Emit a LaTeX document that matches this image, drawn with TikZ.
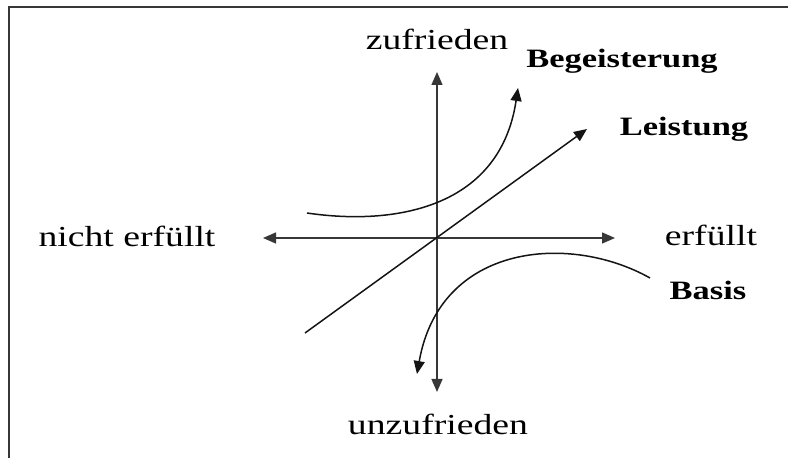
\documentclass[tikz,border=0pt]{standalone}
\usepackage{fontspec}
\setmainfont[FakeStretch=1.3]{Liberation Serif}
\usetikzlibrary{arrows.meta}
\definecolor{ink}{RGB}{20,20,20}
\tikzset{
  >={Triangle[length=13pt,width=11pt]},
  axis/.style={->,line width=1.4pt,draw=ink!85},
  curve/.style={->,line width=1.5pt,draw=ink},
  frame/.style={line width=1.3pt,draw=ink!85},
  lab/.style={font=\fontsize{29}{34}\selectfont,anchor=base,inner sep=0pt},
  kind/.style={font=\fontsize{26.5}{32}\selectfont\bfseries,anchor=base,inner sep=0pt},
}

\begin{document}
\begin{tikzpicture}[x=1pt,y=1pt]
  \useasboundingbox (0,0) rectangle (788,458);
  % frame (top and left only)
  \draw[frame] (9,0) -- (9,451) -- (788,451);

  % axes
  \coordinate (o) at (437,220);
  \coordinate (w) at (263,220);
  \coordinate (e) at (615,220);
  \coordinate (n) at (437,386);
  \coordinate (s) at (437,66);
  \draw[axis] (o) -- (w);
  \draw[axis] (o) -- (e);
  \draw[axis] (o) -- (n);
  \draw[axis] (o) -- (s);

  % axis labels
  \node[lab] (zuf) at (437,408) {zufrieden};
  \node[lab] (unz) at (438,23) {unzufrieden};
  \node[lab] (ne) at (127,211) {nicht erfüllt};
  \node[lab] (erf) at (711,212) {erfüllt};

  % curves
  \coordinate (b0) at (307,245);
  \coordinate (b1) at (518,370);
  \draw[curve] (b0) .. controls (395,232) and (500,250) .. (b1);
  \coordinate (l0) at (305,125);
  \coordinate (l1) at (587,329);
  \draw[curve] (l0) -- (l1);
  \coordinate (s0) at (650,180);
  \coordinate (s1) at (417,84);
  \draw[curve] (s0) .. controls (570,225) and (440,215) .. (s1);

  % curve labels
  \node[kind] (beg) at (622,390) {Begeisterung};
  \node[kind] (lei) at (684,322) {Leistung};
  \node[kind] (bas) at (708,158) {Basis};
\end{tikzpicture}
\end{document}
